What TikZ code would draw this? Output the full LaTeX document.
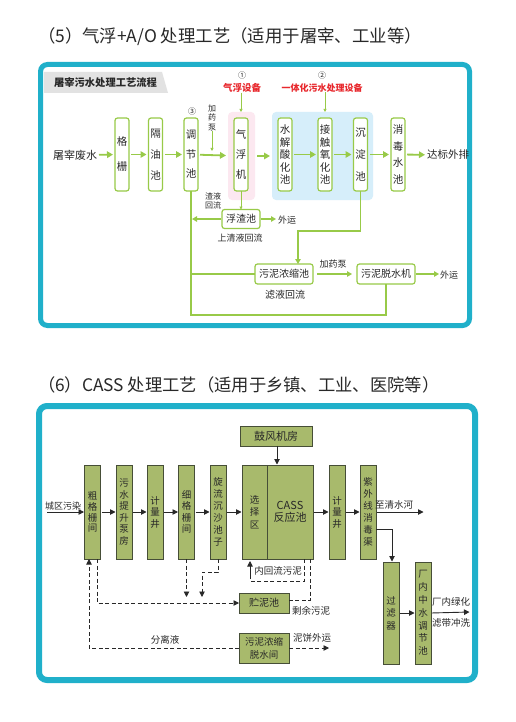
\documentclass[tikz,border=0pt]{standalone}
\usepackage{fontspec}
\setmainfont{Noto Sans CJK SC}
\usetikzlibrary{arrows.meta}
\definecolor{teal1}{RGB}{32,176,202}
\definecolor{tg}{RGB}{152,202,72}
\definecolor{pinkbg}{RGB}{252,232,240}
\definecolor{bluebg}{RGB}{214,238,250}
\definecolor{redt}{RGB}{232,40,45}
\definecolor{txt}{RGB}{40,40,40}
\definecolor{olive}{RGB}{168,186,108}
\definecolor{oliveb}{RGB}{70,78,55}
\definecolor{hdr}{RGB}{226,226,226}
\definecolor{dk}{RGB}{40,40,40}
\newcommand\vf[2]{\fontsize{#1}{#2}\selectfont}
\begin{document}
\begin{tikzpicture}[x=1pt,y=-1pt,
  every node/.style={inner sep=0pt, outer sep=0pt, text=txt},
  tbox/.style={draw=tg, line width=1.2pt, rounded corners=2.5pt, fill=white, minimum width=14pt, minimum height=73pt, align=center},
  tsbox/.style={draw=tg, line width=1.2pt, rounded corners=2.5pt, fill=white, minimum height=19pt},
  tarr/.style={draw=tg, line width=1.8pt, shorten <=2pt, shorten >=2pt, -{Triangle[length=6pt,width=6.5pt]}},
  tmid/.style={draw=tg, line width=1.4pt, shorten <=1pt, -{Triangle[length=5pt,width=5.5pt]}},
  tthin/.style={draw=tg, line width=0.7pt, -{Triangle[length=3pt,width=3pt]}},
  tln/.style={draw=tg, line width=1.2pt},
  bbox/.style={draw=oliveb, fill=olive, line width=0.7pt, minimum width=16pt, minimum height=94pt, align=center, font=\vf{9.5}{11.5}, text=dk},
  barr/.style={draw=dk, line width=0.9pt, shorten <=1pt, shorten >=0.5pt, -{Triangle[length=5.5pt,width=5.5pt]}},
  dsh/.style={draw=dk, line width=0.9pt, dash pattern=on 4pt off 2.5pt},
  darr/.style={dsh, -{Triangle[length=5.5pt,width=5.5pt]}},
  lbl/.style={font=\vf{9.5}{11}}
]
\useasboundingbox (0,0) rectangle (516,722);
\fill[white] (0,0) rectangle (516,722);

% ===== top =====
\node[anchor=west, font=\vf{17.4}{19}] (t5) at (38,37) {（5）气浮+A/O 处理工艺（适用于屠宰、工业等）};
\draw[teal1, line width=5pt, rounded corners=7pt] (40.5,64.5) rectangle (469.5,325.5);
\fill[hdr] (44,72) -- (162,72) -- (168,93) -- (44,93) -- cycle;
\node[anchor=west, font=\bfseries\vf{10.3}{12}] (hd) at (54,82.5) {屠宰污水处理工艺流程};

\node[fill=pinkbg, rounded corners=4pt, minimum width=27pt, minimum height=88pt] (pk) at (241.5,156) {};
\node[fill=bluebg, rounded corners=4pt, minimum width=101pt, minimum height=88pt] (bl) at (322.5,156) {};

\node[tbox, font=\vf{10.5}{25}] (gs) at (122,154.5) {格\\栅};
\node[tbox, font=\vf{10.5}{21}] (gy) at (155.5,154.5) {隔\\油\\池};
\node[tbox, font=\vf{10.5}{19.5}] (tj) at (191,154.5) {调\\节\\池};
\node[tbox, font=\vf{10.5}{20}] (qf) at (241,154.5) {气\\浮\\机};
\node[tbox, font=\vf{10.5}{12.5}] (sj) at (285,154.5) {水\\解\\酸\\化\\池};
\node[tbox, font=\vf{10.5}{12.5}] (jc) at (325,154.5) {接\\触\\氧\\化\\池};
\node[tbox, font=\vf{10.5}{22}] (cd) at (360.5,154.5) {沉\\淀\\池};
\node[tbox, font=\vf{10.5}{16.5}] (xd) at (398,154.5) {消\\毒\\水\\池};

\node[font=\vf{11}{13}] (src) at (75,155) {屠宰废水};
\node[font=\vf{10.5}{13}] (out) at (448,155) {达标外排};

\draw[tarr] (src) -- (gs);
\draw[tarr] (gs) -- (gy);
\draw[tarr] (gy) -- (tj);
\draw[tarr] (tj) -- (pk);
\draw[tarr] (pk) -- (bl);
\draw[tarr] (sj) -- (jc);
\draw[tarr] (jc) -- (cd);
\draw[tarr] (cd) -- (xd);
\draw[tarr] (xd) -- (out);

\node[font=\vf{8}{9.5}, align=center] (jy1) at (212,118) {加\\药\\泵};
\coordinate (jy1e) at (212,151);
\draw[tthin] (jy1.south) -- (jy1e);
\node[font=\vf{8}{9}] (c3) at (192,111) {③};
\node[font=\vf{8}{9}] (c1) at (242,75) {①};
\node[font=\bfseries\vf{9.5}{11}, text=redt] (qfsb) at (242,88) {气浮设备};
\node[font=\vf{8}{9}] (c2) at (322,75) {②};
\node[font=\bfseries\vf{9}{11}, text=redt] (ytsb) at (322,88) {一体化污水处理设备};
\draw[tthin] (qfsb.south -| qf) -- (pk.north -| qf);
\draw[tthin] (ytsb.south -| jc) -- (bl.north -| jc);

\node[tsbox, minimum width=38pt, font=\vf{10}{12}] (fz) at (241,219) {浮渣池};
\draw[tthin] (qf.south) -- (fz.north);
\coordinate (fzl) at (192,219);
\draw[tmid] (fz.west) -- (fzl);
\coordinate (fzr) at (276,219);
\draw[tmid] (fz.east) -- (fzr);
\node[font=\vf{9}{11}] (wy1) at (287,220) {外运};
\node[font=\vf{8}{9.5}, align=center] (zyhl) at (213,201) {渣液\\回流};
\node[font=\vf{9}{11}] (sqy) at (240,238) {上清液回流};

\node[tsbox, minimum width=58pt, minimum height=20pt, font=\vf{10}{12}] (nn) at (284,274) {污泥浓缩池};
\node[tsbox, minimum width=58pt, minimum height=20pt, font=\vf{10}{12}] (ts) at (386,274) {污泥脱水机};
\coordinate (bot) at (191,315);
\draw[tln] (tj.south) -- (bot) -| (ts.south);
\draw[tln] (tj.south |- nn.west) -- (nn.west);
\coordinate (k1) at (298,231);
\draw[tln, -{Triangle[length=5pt,width=5.5pt]}] (cd.south) |- (k1) -- (k1 |- nn.north);
\draw[tmid, shorten <=4pt, shorten >=5pt] (nn.east) -- (ts.west);
\node[font=\vf{9}{11}] (jy2) at (333,264) {加药泵};
\coordinate (tsr) at (439,274);
\draw[tmid] (ts.east) -- (tsr);
\node[font=\vf{9}{11}] (wy2) at (449,275) {外运};
\node[font=\vf{10}{12}] (lyhl) at (285,295) {滤液回流};

% ===== bottom =====
\node[anchor=west, font=\vf{17.3}{19}] (t6) at (38,385) {（6）CASS 处理工艺（适用于乡镇、工业、医院等）};
\draw[teal1, line width=6pt, rounded corners=8pt] (39,406) rectangle (475,680);

\node[bbox, font=\vf{9.5}{10.8}] (cg) at (92.5,512) {粗\\格\\栅\\间};
\node[bbox] (ws) at (124,512) {污\\水\\提\\升\\泵\\房};
\node[bbox] (jl1) at (155,512) {计\\量\\井};
\node[bbox] (xg) at (186.5,512) {细\\格\\栅\\间};
\node[bbox, font=\vf{9.5}{12}] (xl) at (218,512) {旋\\流\\沉\\沙\\池\\子};
\node[bbox, minimum width=25pt, font=\vf{9.5}{12.5}] (xz) at (254.5,512) {选\\择\\区};
\node[bbox, minimum width=46pt, font=\vf{11}{12}] (cr) at (290,512) {CASS\\反应池};
\node[bbox] (jl2) at (337,512) {计\\量\\井};
\node[bbox, font=\vf{9.5}{12}] (zw) at (368,512) {紫\\外\\线\\消\\毒\\渠};
\node[bbox, minimum height=102pt, font=\vf{9.5}{12.5}] (gl) at (391,613) {过\\滤\\器};
\node[bbox, minimum height=102pt, font=\vf{9.5}{12.8}] (cn) at (423,613) {厂\\内\\中\\水\\调\\节\\池};
\node[bbox, minimum width=72pt, minimum height=20pt, font=\vf{11}{13}] (gf) at (276,436) {鼓风机房};
\node[bbox, minimum width=50pt, minimum height=20pt, font=\vf{10}{12}] (zn) at (264,603) {贮泥池};
\node[bbox, minimum width=50pt, minimum height=30pt, font=\vf{9.5}{13}] (wn) at (264,648) {污泥浓缩\\脱水间};

\node[font=\vf{9}{11}] (cq) at (63,506) {城区污染};
\coordinate (cqs) at (46,512);
\draw[barr] (cqs) -- (cg.west);
\draw[barr] (cg.east) -- (ws.west);
\draw[barr] (ws.east) -- (jl1.west);
\draw[barr] (jl1.east) -- (xg.west);
\draw[barr] (xg.east) -- (xl.west);
\draw[barr] (xl.east) -- (xz.west);
\draw[barr] (cr.east) -- (jl2.west);
\draw[barr] (jl2.east) -- (zw.west);
\coordinate (qs) at (424,512);
\draw[barr] (zw.east) -- (qs);
\node[lbl] (qsh) at (394,505) {至清水河};
\coordinate (k2) at (392,529);
\draw[barr, shorten <=0pt] (zw.east |- k2) -- (k2) -- (k2 |- gl.north);
\draw[barr, shorten <=0pt] ([xshift=1pt]gf.south) -- ([xshift=1pt]gf.south |- cr.north);
\draw[barr] (gl.east) -- (cn.west);
\coordinate (ce) at (470,612);
\draw[barr] (cn.east) -- (ce);
\node[lbl] (lh) at (451,602) {厂内绿化};
\node[lbl] (ld) at (451,623) {滤带冲洗};

\coordinate (y597) at (0,597);
\draw[darr] ([xshift=4.5pt]cg.south) |- (zn.west);
\draw[darr] (xg.south) -- (xg.south |- y597);
\coordinate (k3) at (202,572);
\draw[darr] (xl.south) |- (k3) -- (k3 |- y597);
\coordinate (k4) at (250,581);
\draw[dsh] ([xshift=14pt]cr.south) |- (k4) -- ++(0,-5);
\coordinate (k5) at (250,577);
\draw[barr, line width=0.8pt, shorten >=2pt] (k5) -- (k5 |- cr.south);
\node[lbl] (nhl) at (278,571) {内回流污泥};
\coordinate (k6) at (310,600);
\draw[dsh] ([xshift=20pt]cr.south) |- (k6 -| zn.east);
\node[lbl] (sywn) at (311,611) {剩余污泥};
\coordinate (k7) at (89,648);
\draw[darr] (wn.west) -- (wn.west -| k7) -- ([xshift=-3.5pt]cg.south);
\node[lbl] (fly) at (165,640) {分离液};
\coordinate (k8) at (329,648);
\draw[darr] (wn.east) -- (k8);
\node[lbl] (nbwy) at (312,638) {泥饼外运};
\end{tikzpicture}
\end{document}
